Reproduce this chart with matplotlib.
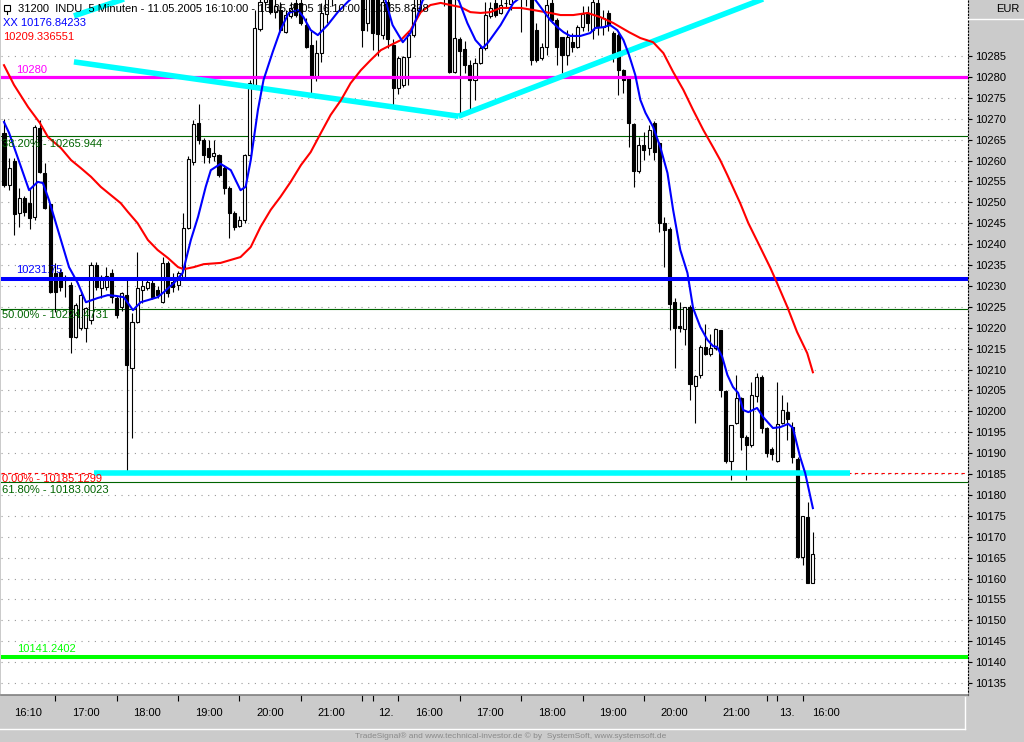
import matplotlib
matplotlib.use('Agg')
import matplotlib.pyplot as plt
from matplotlib.lines import Line2D
from matplotlib.patches import Rectangle
import matplotlib.transforms as mtransforms
import numpy as np

plt.rcParams['font.family'] = ['Liberation Sans', 'DejaVu Sans']

# ---------------- data: 5-minute OHLC bars, bar 0 = 11.05.2005 16:10 ----------------
opens = [10266.6, 10254.1, 10259.9, 10247.4, 10251.0, 10249.8, 10246.5, 10267.8, 10257.0, 10249.6,
         10233.1, 10233.3, 10231.4, 10230.2, 10217.8, 10220.0, 10220.0, 10221.8, 10235.0, 10229.5,
         10229.7, 10233.1, 10227.1, 10225.0, 10227.8, 10210.4, 10221.4, 10229.0, 10229.5, 10230.7,
         10229.0, 10226.1, 10235.5, 10230.9, 10230.2, 10232.1, 10243.8, 10259.6, 10269.0, 10265.0,
         10263.0, 10261.0, 10261.3, 10258.2, 10253.4, 10247.4, 10244.3, 10245.8, 10261.3, 10278.1,
         10291.5, 10298.0, 10302.0, 10295.5, 10296.0, 10290.7, 10294.5, 10297.7, 10297.7, 10292.4,
         10287.6, 10280.0, 10285.7, 10295.0, 10299.0, 10302.0, 10300.0, 10304.0, 10303.0, 10305.0,
         10300.0, 10293.0, 10300.0, 10300.0, 10290.0, 10298.0, 10287.6, 10277.3, 10278.1, 10284.8,
         10290.0, 10296.0, 10301.0, 10304.0, 10302.0, 10305.0, 10301.0, 10300.0, 10281.2, 10289.1,
         10286.7, 10282.8, 10279.3, 10283.3, 10286.9, 10294.5, 10297.7, 10295.3, 10297.6, 10297.5,
         10301.0, 10303.0, 10299.0, 10302.0, 10291.2, 10284.5, 10287.2, 10297.6, 10293.6, 10289.5,
         10285.2, 10288.3, 10287.2, 10291.9, 10295.0, 10291.2, 10297.7, 10291.9, 10295.3, 10290.5,
         10290.0, 10281.6, 10279.7, 10268.7, 10257.5, 10263.7, 10263.0, 10269.0, 10264.2, 10245.0,
         10243.6, 10226.1, 10220.3, 10219.7, 10225.0, 10206.0, 10208.7, 10215.4, 10213.7, 10215.1,
         10219.4, 10204.9, 10188.1, 10197.2, 10203.2, 10193.9, 10191.9, 10203.7, 10208.2, 10196.0,
         10191.0, 10188.1, 10197.2, 10199.8, 10196.2, 10188.6, 10165.1, 10174.7, 10158.9]
highs = [10269.9, 10260.6, 10260.5, 10253.4, 10251.5, 10253.4, 10268.5, 10269.7, 10259.4, 10249.8,
         10235.5, 10234.0, 10232.6, 10230.9, 10226.0, 10228.5, 10225.0, 10235.7, 10235.7, 10232.5,
         10234.5, 10234.0, 10227.6, 10228.5, 10231.4, 10223.5, 10238.1, 10232.0, 10231.8, 10232.0,
         10230.0, 10236.9, 10236.0, 10233.0, 10233.5, 10247.4, 10261.0, 10269.7, 10273.5, 10265.5,
         10264.8, 10264.9, 10261.5, 10259.0, 10254.0, 10248.0, 10246.7, 10261.5, 10279.3, 10296.0,
         10301.0, 10305.0, 10304.0, 10300.0, 10298.0, 10296.0, 10298.0, 10299.0, 10299.5, 10294.0,
         10291.0, 10288.8, 10297.6, 10301.0, 10304.0, 10305.0, 10306.0, 10307.0, 10307.0, 10306.0,
         10301.0, 10302.0, 10302.0, 10303.0, 10300.0, 10301.0, 10289.0, 10285.0, 10285.0, 10290.7,
         10299.0, 10303.0, 10306.0, 10307.0, 10307.0, 10306.0, 10303.0, 10301.0, 10299.0, 10289.5,
         10288.5, 10284.0, 10284.5, 10287.5, 10298.0, 10298.0, 10299.0, 10299.0, 10299.5, 10303.0,
         10305.0, 10305.0, 10304.0, 10303.0, 10293.0, 10288.0, 10299.0, 10299.0, 10294.0, 10289.6,
         10291.2, 10290.5, 10292.4, 10297.0, 10297.0, 10299.0, 10300.0, 10296.0, 10296.0, 10291.0,
         10290.5, 10282.0, 10280.0, 10269.0, 10265.6, 10266.8, 10268.5, 10269.5, 10264.5, 10246.5,
         10244.1, 10227.1, 10226.1, 10225.0, 10225.4, 10208.7, 10215.9, 10220.9, 10218.5, 10219.7,
         10219.5, 10205.1, 10196.7, 10208.7, 10203.4, 10194.3, 10207.0, 10209.2, 10208.7, 10196.3,
         10191.5, 10207.0, 10203.9, 10202.2, 10197.4, 10189.0, 10175.0, 10178.3, 10171.1]
lows = [10253.7, 10252.9, 10242.2, 10244.1, 10246.8, 10243.6, 10245.8, 10257.0, 10248.4, 10228.3,
        10223.8, 10228.8, 10227.3, 10214.0, 10217.5, 10219.5, 10216.6, 10221.0, 10229.0, 10227.1,
        10229.0, 10226.0, 10222.3, 10224.0, 10185.1, 10193.6, 10221.2, 10226.0, 10229.0, 10226.8,
        10227.0, 10225.8, 10227.3, 10228.5, 10229.0, 10231.5, 10243.5, 10259.0, 10264.0, 10259.4,
        10259.4, 10260.0, 10256.0, 10252.0, 10241.5, 10243.4, 10244.0, 10245.0, 10261.0, 10277.5,
        10291.0, 10296.0, 10295.0, 10294.0, 10290.7, 10290.5, 10294.0, 10294.3, 10292.5, 10287.0,
        10276.2, 10279.0, 10283.6, 10293.0, 10297.0, 10299.0, 10299.0, 10301.0, 10301.0, 10299.0,
        10287.2, 10291.0, 10286.4, 10285.0, 10289.0, 10287.0, 10273.3, 10276.0, 10277.5, 10278.1,
        10289.5, 10295.0, 10300.0, 10300.0, 10301.0, 10299.0, 10297.0, 10281.0, 10281.0, 10270.4,
        10281.0, 10272.1, 10274.5, 10283.0, 10286.5, 10294.0, 10294.3, 10295.0, 10296.5, 10296.0,
        10299.0, 10290.7, 10297.0, 10282.8, 10283.6, 10284.0, 10285.2, 10293.0, 10282.8, 10280.9,
        10282.8, 10286.0, 10286.8, 10291.0, 10291.0, 10289.0, 10290.0, 10290.0, 10291.0, 10283.6,
        10275.7, 10276.1, 10263.2, 10253.7, 10257.0, 10260.1, 10261.3, 10260.1, 10242.9, 10234.5,
        10219.5, 10210.4, 10219.0, 10215.9, 10202.7, 10197.2, 10208.0, 10213.5, 10213.2, 10214.7,
        10203.4, 10187.6, 10183.6, 10197.0, 10190.7, 10183.6, 10191.5, 10202.2, 10194.8, 10189.0,
        10188.3, 10187.9, 10197.0, 10193.1, 10187.6, 10165.0, 10163.2, 10158.9, 10158.9]
closes = [10254.1, 10258.2, 10247.3, 10251.0, 10247.7, 10246.2, 10268.0, 10257.2, 10248.6, 10228.5,
          10228.5, 10229.7, 10232.1, 10217.8, 10225.4, 10227.8, 10224.7, 10235.0, 10229.7, 10232.1,
          10232.4, 10227.3, 10223.0, 10228.3, 10211.1, 10221.4, 10229.5, 10230.0, 10230.9, 10227.3,
          10227.8, 10235.5, 10228.3, 10229.7, 10233.1, 10243.8, 10260.4, 10268.7, 10264.9, 10261.3,
          10260.8, 10261.8, 10256.5, 10253.4, 10247.4, 10244.1, 10245.8, 10261.3, 10278.5, 10291.7,
          10298.0, 10302.0, 10295.5, 10297.0, 10291.2, 10294.8, 10296.5, 10294.8, 10292.9, 10287.2,
          10280.0, 10285.7, 10295.3, 10299.0, 10302.0, 10300.0, 10304.0, 10303.0, 10305.0, 10300.0,
          10291.2, 10299.0, 10290.5, 10290.3, 10298.0, 10289.0, 10277.3, 10284.5, 10284.8, 10290.0,
          10296.5, 10301.0, 10304.0, 10302.0, 10305.0, 10301.0, 10300.0, 10281.2, 10289.3, 10286.2,
          10282.8, 10279.3, 10283.3, 10286.9, 10294.8, 10296.5, 10294.8, 10297.2, 10297.8, 10301.0,
          10303.0, 10299.0, 10302.0, 10284.0, 10284.0, 10287.2, 10297.2, 10293.6, 10287.2, 10285.2,
          10289.5, 10287.2, 10291.9, 10295.0, 10293.0, 10297.9, 10291.9, 10294.0, 10292.4, 10285.7,
          10281.6, 10279.3, 10269.0, 10257.5, 10263.7, 10262.5, 10267.3, 10262.0, 10245.0, 10243.3,
          10225.7, 10219.9, 10219.9, 10225.0, 10206.5, 10208.4, 10215.4, 10213.7, 10215.1, 10219.7,
          10205.1, 10188.1, 10196.7, 10203.2, 10193.9, 10191.9, 10203.9, 10208.2, 10196.0, 10190.0,
          10189.8, 10197.0, 10200.3, 10198.2, 10189.1, 10165.1, 10175.0, 10158.9, 10165.84]

# fast moving average (blue, "XX"): bar position, value
fast_ma_x = [0, 1.0, 4.9, 6.6, 7.6, 8.8, 10.7, 12.7, 14.4, 16.0, 18.3, 20.3, 21.9, 23.4, 25.2, 26.7,
             28.1, 30.0, 31.2, 33.2, 34.9, 36.5, 37.9, 39.4, 40.4, 42.3, 44.3, 46.2, 47.2, 48.2, 49.6,
             50.7, 52.5, 54.0, 55.6, 57.4, 58.5, 59.9, 61.3, 63.2, 65.2, 67.1, 69.7, 72.6, 74.5, 75.9,
             77.9, 79.4, 80.6, 81.8, 85.3, 88.8, 90.5, 92.1, 93.5, 94.6, 97.0, 99.5, 102.2, 103.8,
             106.7, 108.1, 109.3, 110.6, 112.6, 114.5, 115.5, 117.1, 118.4, 119.8, 121.0, 122.1, 123.3,
             124.3, 125.3, 126.8, 128.2, 129.6, 130.7, 132.1, 133.5, 134.6, 136.0, 137.4, 138.5, 139.3,
             140.3, 141.3, 142.4, 143.4, 144.4, 145.4, 147.1, 148.3, 150.2, 151.6, 153.2, 154.1, 155.5,
             156.5, 158.0]
fast_ma_y = [10269.2, 10266.6, 10252.9, 10254.9, 10254.6, 10250.5, 10242.7, 10234.5, 10230.7, 10226.1,
             10227.1, 10227.8, 10227.6, 10227.3, 10224.2, 10226.1, 10226.6, 10227.3, 10228.5, 10230.7,
             10233.1, 10241.0, 10246.5, 10253.7, 10257.7, 10259.2, 10257.7, 10252.9, 10253.7, 10260.1,
             10272.1, 10279.3, 10286.0, 10291.2, 10295.3, 10296.0, 10294.3, 10291.2, 10290.0, 10292.4,
             10295.5, 10297.9, 10300.8, 10301.3, 10298.4, 10292.4, 10288.3, 10290.5, 10294.1, 10298.4,
             10301.3, 10298.4, 10292.9, 10288.8, 10286.9, 10288.3, 10292.4, 10297.7, 10300.3, 10298.4,
             10293.6, 10291.9, 10290.7, 10289.8, 10289.8, 10290.5, 10291.7, 10291.9, 10292.4, 10291.2,
             10288.8, 10285.2, 10280.5, 10274.5, 10271.4, 10268.0, 10263.2, 10257.0, 10248.2, 10238.6,
             10233.1, 10224.7, 10220.2, 10217.1, 10215.6, 10215.4, 10213.0, 10208.7, 10205.8, 10204.4,
             10200.3, 10199.8, 10200.8, 10198.6, 10196.0, 10196.2, 10197.0, 10196.0, 10189.1, 10185.2,
             10176.84]

# slow moving average (red)
slow_ma_x = [0, 1.95, 4.7, 7.0, 8.6, 11.1, 13.1, 15.0, 17.0, 18.9, 20.9, 22.8, 24.2, 26.1, 28.1, 30.0,
             32.0, 34.0, 35.1, 37.1, 39.0, 42.3, 46.2, 48.2, 50.1, 52.1, 54.0, 56.0, 58.0, 59.9, 61.9,
             63.8, 65.8, 67.7, 69.7, 71.6, 73.6, 75.5, 77.5, 79.4, 81.4, 83.3, 85.3, 87.2, 89.2, 91.1,
             93.1, 95.0, 97.0, 100.9, 103.4, 106.7, 108.7, 111.2, 114.0, 116.5, 119.0, 122.1, 124.3,
             126.8, 128.8, 130.7, 132.7, 134.6, 136.6, 138.5, 139.9, 141.3, 143.8, 145.4, 147.7, 149.7,
             151.0, 153.0, 154.9, 156.9, 158.0]
slow_ma_y = [10282.8, 10278.1, 10272.8, 10269.0, 10265.6, 10263.0, 10260.1, 10258.2, 10256.1, 10253.7,
             10251.7, 10249.8, 10247.7, 10245.0, 10241.0, 10238.6, 10236.7, 10234.5, 10234.0, 10234.5,
             10235.2, 10235.5, 10236.9, 10239.3, 10244.1, 10248.2, 10251.3, 10254.9, 10258.9, 10262.0,
             10266.6, 10270.9, 10274.4, 10278.5, 10281.6, 10284.0, 10286.4, 10287.6, 10288.8, 10291.2,
             10295.5, 10297.2, 10297.7, 10297.2, 10296.7, 10295.5, 10295.3, 10295.5, 10296.5, 10296.5,
             10296.0, 10295.3, 10294.8, 10294.8, 10295.3, 10294.3, 10292.9, 10290.7, 10289.3, 10288.3,
             10285.7, 10281.2, 10276.9, 10272.1, 10267.3, 10263.2, 10260.1, 10256.5, 10249.8, 10245.0,
             10239.3, 10234.3, 10230.7, 10225.0, 10219.0, 10213.9, 10209.34]

# horizontal levels
level_magenta = 10280.0
level_blue = 10231.75
level_green = 10141.2402
fib_levels = [10265.944, 10224.4731, 10183.0023]
fib_names = ['38.20%', '50.00%', '61.80%']
fib_zero = 10185.1299

# cyan trend lines (bar position, price)
cyan_support_x = [17.56, 165.3]
cyan_support_y = [10185.13, 10185.13]
cyan_down_x = [13.66, 88.8]
cyan_down_y = [10283.6, 10270.6]
cyan_up_x = [88.8, 152.0]
cyan_up_y = [10270.6, 10300.4]
cyan_top_x = [13.66, 26.0]
cyan_top_y = [10294.6, 10299.7]

# time axis
tick_pos = [10, 22, 34, 46, 58, 70, 72, 77, 89, 101, 113, 125, 137, 149, 151, 156]
label_pos = [4.7, 16, 28, 40, 52, 64, 74.5, 83, 95, 107, 119, 131, 143, 153, 160.5]
label_txt = ['16:10', '17:00', '18:00', '19:00', '20:00', '21:00', '12.', '16:00', '17:00',
             '18:00', '19:00', '20:00', '21:00', '13.', '16:00']

price_ticks = list(range(10135, 10290, 5))

# ---------------- drawing ----------------
W, H = 1024, 742
BG = '#cbcbcb'
FS = 8.0
fig = plt.figure(figsize=(W / 100, H / 100), dpi=100, facecolor=BG)
ax = fig.add_axes([1 / W, 47 / H, 967 / W, 695 / H])
ax.set_facecolor('white')
ax.set_xlim(-0.585, 188.3)
ax.set_ylim(10132.13, 10298.4)

o = np.array(opens); h = np.array(highs); l = np.array(lows); c = np.array(closes)
x = np.arange(len(o))

# grid
for p in price_ticks:
    ax.axhline(p, color='#9a9a9a', lw=0.8, linestyle=(0, (1, 5)), zorder=0.5)

# fib lines
for lv in fib_levels:
    ax.axhline(lv, color='#006400', lw=0.8, zorder=1)
ax.axhline(fib_zero, color='#ff0000', lw=0.8, linestyle=(0, (3, 3)), zorder=1)

# candles
ax.vlines(x, l, h, color='black', lw=0.8, zorder=3)
up = c >= o
bot = np.minimum(o, c)
hgt = np.abs(c - o)
ax.bar(x[up], hgt[up], bottom=bot[up], width=0.6, color='white', edgecolor='black',
       lw=0.8, zorder=4)
ax.bar(x[~up], hgt[~up], bottom=bot[~up], width=0.6, color='black', edgecolor='black',
       lw=0.8, zorder=4)

# thick horizontals
ax.axhline(level_magenta, color='#ff00ff', lw=2.3, zorder=6)
ax.axhline(level_blue, color='#0000ff', lw=2.9, zorder=6)
ax.axhline(level_green, color='#00ff00', lw=2.9, zorder=6)

# cyan lines
for xs, ys in [(cyan_support_x, cyan_support_y), (cyan_down_x, cyan_down_y),
               (cyan_up_x, cyan_up_y), (cyan_top_x, cyan_top_y)]:
    ax.plot(xs, ys, color='#00ffff', lw=4.0, solid_capstyle='butt', zorder=6)

# moving averages
ax.plot(slow_ma_x, slow_ma_y, color='#ff0000', lw=1.5, zorder=7)
ax.plot(fast_ma_x, fast_ma_y, color='#0000ff', lw=1.5, zorder=7)

# axes styling
for s in ['top', 'left']:
    ax.spines[s].set_visible(False)
ax.spines['bottom'].set_color('#808080')
ax.spines['bottom'].set_linewidth(1.2)
ax.spines['right'].set_linestyle((0, (1, 2)))
ax.spines['right'].set_color('black')
ax.spines['right'].set_linewidth(0.8)
ax.yaxis.tick_right()
ax.set_yticks(price_ticks)
ax.set_yticklabels([str(p) for p in price_ticks], fontsize=FS)
ax.tick_params(axis='y', direction='out', length=3, width=0.8, pad=2, colors='black')
ax.set_xticks(tick_pos)
ax.set_xticklabels([])
ax.tick_params(axis='x', direction='out', length=4, width=0.8, colors='black')

trans = mtransforms.blended_transform_factory(ax.transData, fig.transFigure)
for lp, lt in zip(label_pos, label_txt):
    ax.text(lp, 1 - 713 / H, lt, transform=trans, ha='center', va='center', fontsize=FS,
            color='black', clip_on=False)

def ft(px, py, s, **kw):
    fig.text(px / W, 1 - py / H, s, va='center', ha='left', fontsize=FS, **kw)

# labels on chart
ft(18, 9, '31200  INDU  5 Minuten - 11.05.2005 16:10:00 - 13.05.2005 16:10:00 - 10165.8398',
   color='black', zorder=10)
fig.add_artist(Rectangle((4 / W, 1 - 11 / H), 6 / W, 6 / H, transform=fig.transFigure,
                         facecolor='white', edgecolor='black', lw=0.8, zorder=10))
fig.add_artist(Line2D([7 / W, 7 / W], [1 - 11 / H, 1 - 14 / H], transform=fig.transFigure,
                      color='black', lw=0.8, zorder=10))
ft(3, 23, 'XX 10176.84233', color='#0000ff', zorder=10)
ft(3, 37, '10209.336551', color='#ff0000', zorder=10)
ft(16, 70, '10280', color='#ff00ff', zorder=10)
ft(2, 144, '%s - %s' % (fib_names[0], '10265.944'), color='#006400', zorder=10)
ft(16, 270, '10231.75', color='#0000ff', zorder=10)
ft(2, 315, '%s - %s' % (fib_names[1], '10224.4731'), color='#006400', zorder=10)
ft(2, 479, '0.00% - 10185.1299', color='#ff0000', zorder=10)
ft(2, 490, '%s - %s' % (fib_names[2], '10183.0023'), color='#006400', zorder=10)
ft(17, 649, '10141.2402', color='#00ff00', zorder=10)

# right header "EUR"
fig.text(1008 / W, 1 - 9 / H, 'EUR', ha='center', va='center', fontsize=FS)
fig.add_artist(Line2D([968 / W, 1], [1 - 18.5 / H, 1 - 18.5 / H], transform=fig.transFigure,
                      color='white', lw=1))
# bottom panel borders
fig.add_artist(Line2D([0, 965 / W], [1 - 729 / H, 1 - 729 / H], transform=fig.transFigure,
                      color='white', lw=1))
fig.add_artist(Line2D([965 / W, 965 / W], [1 - 729 / H, 1 - 697 / H], transform=fig.transFigure,
                      color='white', lw=1))

# footer
fig.text(511 / W, 1 - 736 / H,
         'TradeSignal\u00ae and www.technical-investor.de \u00a9 by  SystemSoft, www.systemsoft.de',
         ha='center', va='center', fontsize=6, color='#8a8a8a')

fig.savefig('out.png', dpi=100, facecolor=BG)
